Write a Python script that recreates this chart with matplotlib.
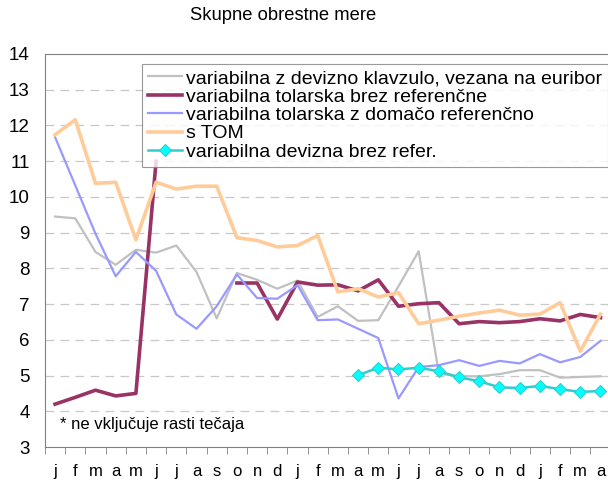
# Skupne obrestne mere - recreated chart

import matplotlib
matplotlib.use("Agg")
import matplotlib.pyplot as plt
import numpy as np

plt.rcParams["font.family"] = ["Liberation Sans", "DejaVu Sans"]

months = ["j", "f", "m", "a", "m", "j", "j", "a", "s", "o", "n", "d",
          "j", "f", "m", "a", "m", "j", "j", "a", "s", "o", "n", "d",
          "j", "f", "m", "a"]

nan = np.nan

devizna_euribor = [9.45, 9.40, 8.46, 8.10, 8.52, 8.44, 8.64, 7.90, 6.60, 7.87,
                   7.68, 7.43, 7.66, 6.64, 6.94, 6.53, 6.55, 7.50, 8.48, 5.05,
                   4.98, 4.98, 5.04, 5.15, 5.15, 4.94, 4.96, 4.98]
tolarska_brez = [4.20, 4.39, 4.59, 4.43, 4.50, 11.00, nan, nan, nan, 7.59,
                 7.59, 6.58, 7.62, 7.53, 7.54, 7.37, 7.68, 6.94, 7.01, 7.04,
                 6.45, 6.51, 6.48, 6.51, 6.59, 6.53, 6.71, 6.62]
tolarska_domaca = [11.67, 10.32, 8.97, 7.78, 8.46, 7.93, 6.71, 6.31, 6.94, 7.83,
                   7.17, 7.15, 7.53, 6.55, 6.57, 6.31, 6.05, 4.36, 5.24, 5.29,
                   5.43, 5.27, 5.41, 5.34, 5.60, 5.37, 5.52, 5.97]
s_tom = [11.74, 12.16, 10.38, 10.41, 8.80, 10.41, 10.22, 10.30, 10.30, 8.86,
         8.78, 8.60, 8.64, 8.92, 7.34, 7.43, 7.20, 7.32, 6.45, 6.55,
         6.66, 6.75, 6.83, 6.69, 6.72, 7.04, 5.68, 6.72]
devizna_brez = [nan] * 15 + [5.01, 5.22, 5.17, 5.22, 5.12, 4.95, 4.84, 4.67,
                             4.65, 4.71, 4.62, 4.54, 4.57]

x = np.arange(len(months))

fig = plt.figure(figsize=(6.08, 4.84), dpi=100)
ax = fig.add_axes([45 / 608, 37 / 484, 565.6 / 608, 393 / 484])

ax.plot(x, devizna_euribor, color="#c0c0c0", lw=1.6,
        label="variabilna z devizno klavzulo, vezana na euribor")
ax.plot(x, tolarska_brez, color="#993366", lw=2.6,
        label="variabilna tolarska brez referenčne")
ax.plot(x, tolarska_domaca, color="#9999ff", lw=1.6,
        label="variabilna tolarska z domačo referenčno")
ax.plot(x, s_tom, color="#ffcc99", lw=2.6, label="s TOM")
ax.plot(x, devizna_brez, color="#33cccc", lw=1.8, marker="D", markersize=6,
        markerfacecolor="#00ffff", markeredgecolor="#33cccc", markeredgewidth=0.8,
        label="variabilna devizna brez refer.")

ax.set_xlim(-0.5, len(months) - 0.5)
ax.set_ylim(3, 14)
ax.set_yticks(range(3, 15))
ax.set_xticks(x)
ax.set_xticklabels(months)
ax.set_xticks(np.arange(-0.5, len(months)), minor=True)
ax.tick_params(axis="x", which="major", length=0, pad=12, labelsize=12)
ax.tick_params(axis="x", which="minor", length=5, color="#808080", direction="out")
ax.tick_params(axis="y", length=0, pad=11, labelsize=13.5)

for v in range(4, 14):
    ax.axhline(v, color="#c8c8c8", lw=0.9, ls=(0, (7, 5)), zorder=0)

for side in ["left", "bottom", "top"]:
    ax.spines[side].set_color("#808080")
ax.spines["right"].set_visible(False)

leg = ax.legend(loc="upper left", bbox_to_anchor=(0.1715, 0.975),
                borderaxespad=0, frameon=True, fancybox=False, fontsize=14,
                handlelength=1.75, handletextpad=0.2, labelspacing=0.04,
                borderpad=0.3)
leg.get_frame().set_edgecolor("#808080")
leg.get_frame().set_linewidth(0.8)
leg.set_zorder(5)

ax.text(15 / 565.6, 0.058, "* ne vključuje rasti tečaja", transform=ax.transAxes,
        fontsize=12, va="center", ha="left")

fig.text(283 / 608, 1 - 16 / 484, "Skupne obrestne mere", ha="center", va="center",
         fontsize=13.2)

fig.savefig("out.png", dpi=100)
